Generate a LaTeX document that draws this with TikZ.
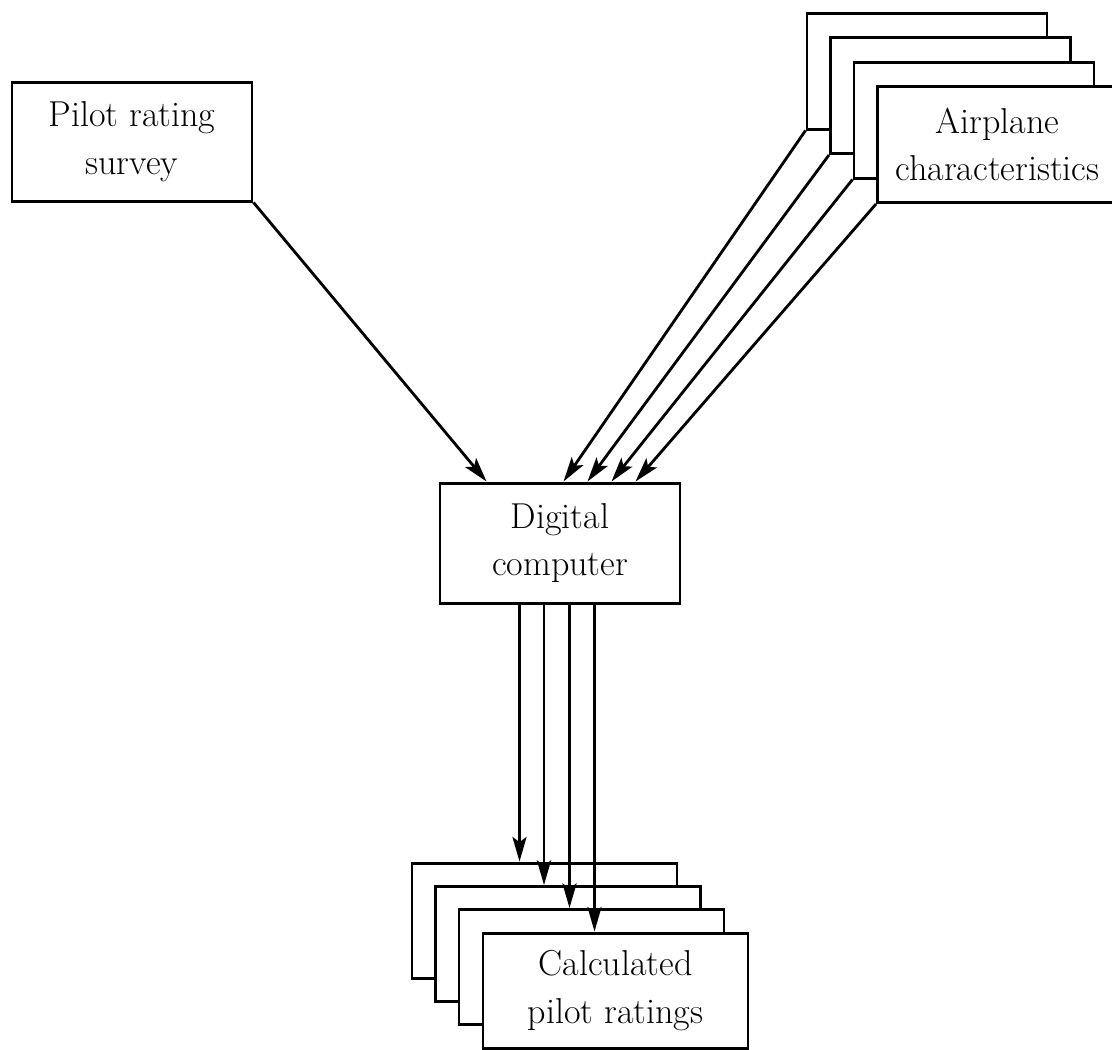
\documentclass[tikz,border=0pt]{standalone}
\usepackage{tikz}
\usetikzlibrary{arrows.meta,calc}

\begin{document}
\begin{tikzpicture}[
    box/.style={rectangle, draw, line width=1.7pt, fill=white, align=center,
                font=\fontsize{20.5}{27}\selectfont},
    arrow/.style={-{Stealth[length=14pt, width=8pt, inset=3pt]}, line width=1.6pt},
]
    \useasboundingbox (0, 0) rectangle (22.24, -21);

    % Survey and computer
    \node[box, minimum width=4.8cm, minimum height=2.38cm] (survey) at (2.64, -2.83) {Pilot rating\\survey};
    \node[box, minimum width=4.8cm, minimum height=2.4cm] (computer) at (11.2, -10.86) {Digital\\computer};

    % Airplane data (stacked)
    \node[box, minimum width=4.8cm, minimum height=2.32cm] (air1) at (18.54, -1.42) {};
    \node[box, minimum width=4.8cm, minimum height=2.32cm] (air2) at (19.01, -1.91) {};
    \node[box, minimum width=4.8cm, minimum height=2.32cm] (air3) at (19.48, -2.40) {};
    \node[box, minimum width=4.8cm, minimum height=2.32cm] (air4) at (19.95, -2.89) {Airplane\\characteristics};

    % Results (stacked)
    \node[box, minimum width=5.3cm, minimum height=2.3cm] (calc1) at (10.89, -18.41) {};
    \node[box, minimum width=5.3cm, minimum height=2.3cm] (calc2) at (11.36, -18.88) {};
    \node[box, minimum width=5.3cm, minimum height=2.3cm] (calc3) at (11.83, -19.34) {};
    \node[box, minimum width=5.3cm, minimum height=2.3cm] (calc4) at (12.31, -19.81) {Calculated\\pilot ratings};

    % Arrows
    \draw[arrow] (survey.south east) -- ([xshift=0.96cm]computer.north west);
    \draw[arrow] (air1.south west) -- ([xshift=2.50cm]computer.north west);
    \draw[arrow] (air2.south west) -- ([xshift=2.98cm]computer.north west);
    \draw[arrow] (air3.south west) -- ([xshift=3.46cm]computer.north west);
    \draw[arrow] (air4.south west) -- ([xshift=3.94cm]computer.north west);
    \draw[arrow] ([xshift=2.18cm]calc1.north west |- computer.south) -- ([xshift=2.18cm]calc1.north west);
    \draw[arrow] ([xshift=2.2cm]calc2.north west |- computer.south) -- ([xshift=2.2cm]calc2.north west);
    \draw[arrow] ([xshift=2.24cm]calc3.north west |- computer.south) -- ([xshift=2.24cm]calc3.north west);
    \draw[arrow] ([xshift=2.26cm]calc4.north west |- computer.south) -- ([xshift=2.26cm]calc4.north west);
\end{tikzpicture}
\end{document}
